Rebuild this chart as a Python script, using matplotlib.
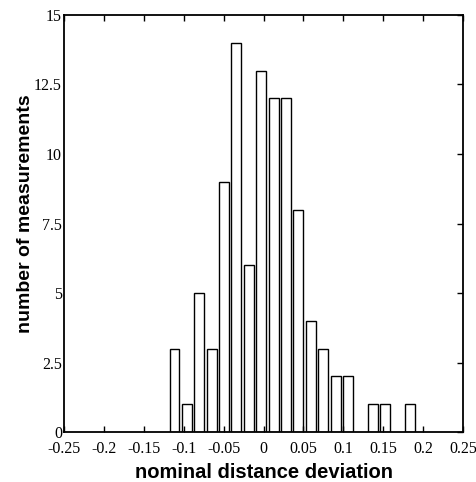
import matplotlib
matplotlib.use('Agg')
import matplotlib.pyplot as plt
import numpy as np

# histogram of 100 measurements
bin_centers = np.linspace(-0.1116, 0.1835, 20)
counts = [3, 1, 5, 3, 9, 14, 6, 13, 12, 12, 8, 4, 3, 2, 2, 0, 1, 1, 0, 1]
xticks = [-0.25, -0.2, -0.15, -0.1, -0.05, 0, 0.05, 0.1, 0.15, 0.2, 0.25]
xticklabels = ['-0.25', '-0.2', '-0.15', '-0.1', '-0.05', '0', '0.05', '0.1', '0.15', '0.2', '0.25']
yticks = [0, 2.5, 5, 7.5, 10, 12.5, 15]
yticklabels = ['0', '2.5', '5', '7.5', '10', '12.5', '15']

fig = plt.figure(figsize=(4.76, 4.82), dpi=100)
ax = fig.add_axes([0.1345, 0.1037, 0.8382, 0.8652])

binw = bin_centers[1] - bin_centers[0]
for c, n in zip(bin_centers, counts):
    if n > 0:
        ax.bar(c, n, width=binw * 0.8, color='white', edgecolor='black', linewidth=1.0)

ax.set_xlim(-0.25, 0.25)
ax.set_ylim(0, 15)
ax.set_xticks(xticks)
ax.set_xticklabels(xticklabels, family='Liberation Serif', fontsize=11.5)
ax.set_yticks(yticks)
ax.set_yticklabels(yticklabels, family='Liberation Serif', fontsize=11.5)
ax.tick_params(axis='x', direction='in', top=True, bottom=True, length=4, width=1, pad=6.5)
ax.tick_params(axis='y', direction='in', left=False, right=True, length=4, width=1, pad=1.5)
for s in ax.spines.values():
    s.set_linewidth(1.3)

ax.set_xlabel('nominal distance deviation', family='Liberation Sans', fontweight='bold', fontsize=14.5, labelpad=4)
ax.set_ylabel('number of measurements', family='Liberation Sans', fontweight='bold', fontsize=14)
ax.yaxis.set_label_coords(-0.076, 0.523)

plt.savefig('out.png', dpi=100)
